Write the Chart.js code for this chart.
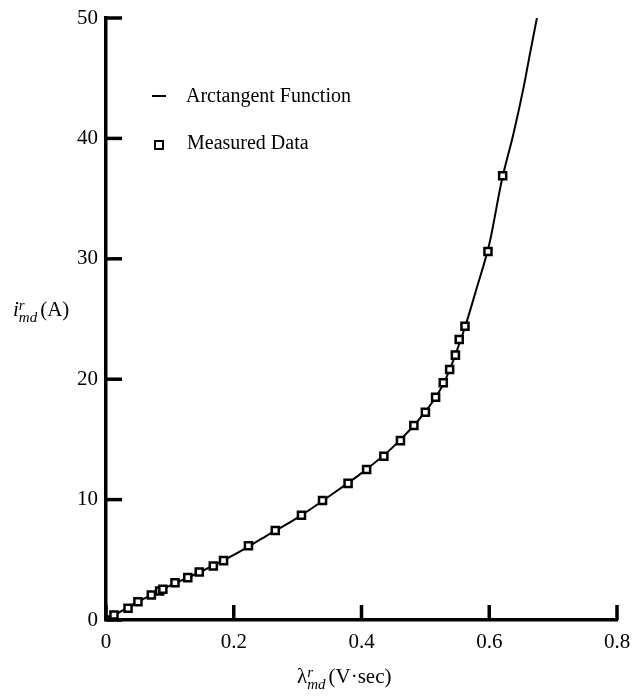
<!DOCTYPE html>
<html>
<head>
<meta charset="utf-8">
<script src="https://cdn.jsdelivr.net/npm/chart.js@4/dist/chart.umd.min.js"></script>
<style>
  body { margin: 0; background: #fff; }
  #wrap { position: relative; width: 634px; height: 696px; }
  .lbl { position: absolute; font-family: 'Liberation Serif', serif; color: #000; font-size: 20px; white-space: nowrap; }
  .ss { display: inline-block; vertical-align: -6px; line-height: 0.8; font-style: italic; font-size: 15px; margin-right: 3px; }
  .ss span { display: block; }
  .legline { position: absolute; left: 152px; top: 95px; width: 14px; height: 2px; background: #000; }
  .legbox { position: absolute; left: 154px; top: 140px; width: 6px; height: 6px; border: 2px solid #000; background: #fff; }
</style>
</head>
<body>
<div id="wrap">
  <canvas id="grafico" width="634" height="696"></canvas>
  <div class="legline"></div>
  <div class="lbl" style="left:186px; top:84px;">Arctangent Function</div>
  <div class="legbox"></div>
  <div class="lbl" style="left:187px; top:131px;">Measured Data</div>
  <div class="lbl" style="left:13px; top:297px; font-size:21px;"><i>i</i><span class="ss"><span>r</span><span>md</span></span>(A)</div>
  <div class="lbl" style="left:297px; top:664px; font-size:21px;">&lambda;<span class="ss"><span>r</span><span>md</span></span>(V&middot;sec)</div>
</div>
<script>
// Datos medidos
const medidoX = [0, 0.0125, 0.0345, 0.050, 0.071, 0.084, 0.089, 0.108, 0.128, 0.146, 0.168, 0.184,
  0.223, 0.265, 0.306, 0.339, 0.379, 0.408, 0.435, 0.461, 0.482, 0.500, 0.516, 0.528, 0.538,
  0.547, 0.553, 0.562, 0.598, 0.621];
const medidoY = [0, 0.42, 0.97, 1.52, 2.08, 2.41, 2.55, 3.1, 3.52, 3.99, 4.49, 4.93,
  6.16, 7.43, 8.7, 9.92, 11.35, 12.5, 13.6, 14.9, 16.15, 17.25, 18.5, 19.7, 20.8,
  22.0, 23.3, 24.4, 30.6, 36.9];

// Curva arcotangente
const curvaX = [0, 0.05, 0.1, 0.15, 0.2, 0.25, 0.3, 0.35, 0.4, 0.45, 0.5, 0.53, 0.56, 0.58, 0.6, 0.62, 0.638, 0.654, 0.664, 0.675];
const curvaY = [0, 1.5, 2.85, 4.05, 5.4, 6.95, 8.5, 10.3, 12.2, 14.4, 17.3, 19.8, 24.0, 27.5, 31.2, 36.6, 40.4, 44.3, 47.1, 50.1];

// Marcas de los ejes
const ticksX = [0, 0.2, 0.4, 0.6, 0.8];
const ticksY = [0, 10, 20, 30, 40, 50];

const fuente = { family: "'Liberation Serif', serif", size: 21 };

// Marcas hacia adentro
const marcasInternas = {
  id: 'marcasInternas',
  afterDraw(chart) {
    const ctx = chart.ctx, x = chart.scales.x, y = chart.scales.y, a = chart.chartArea;
    ctx.save();
    ctx.strokeStyle = '#000';
    ctx.lineWidth = 3.5;
    ticksX.forEach(v => {
      const px = x.getPixelForValue(v);
      ctx.beginPath(); ctx.moveTo(px, a.bottom); ctx.lineTo(px, a.bottom - 15); ctx.stroke();
    });
    ticksY.forEach(v => {
      const py = y.getPixelForValue(v);
      ctx.beginPath(); ctx.moveTo(a.left, py); ctx.lineTo(a.left + 16, py); ctx.stroke();
    });
    ctx.restore();
  }
};

document.addEventListener('DOMContentLoaded', function() {
  new Chart(document.getElementById('grafico'), {
    type: 'scatter',
    data: {
      datasets: [{
        label: 'Measured Data',
        data: medidoX.map((v, i) => ({ x: v, y: medidoY[i] })),
        pointStyle: 'rect',
        pointRadius: 5,
        borderWidth: 2.5,
        borderColor: '#000',
        backgroundColor: '#fff',
        order: 0
      }, {
        label: 'Arctangent Function',
        data: curvaX.map((v, i) => ({ x: v, y: curvaY[i] })),
        showLine: true,
        pointRadius: 0,
        borderColor: '#000',
        borderWidth: 2,
        cubicInterpolationMode: 'monotone',
        order: 1
      }]
    },
    options: {
      responsive: false,
      animation: false,
      layout: { padding: { top: 18, right: 17, left: 0, bottom: 0 } },
      plugins: { legend: { display: false }, tooltip: { enabled: false } },
      scales: {
        x: {
          type: 'linear', min: 0, max: 0.8,
          afterBuildTicks: s => { s.ticks = ticksX.map(v => ({ value: v })); },
          afterFit: s => { s.height = 76; s.paddingRight = 0; s.paddingLeft = 0; },
          grid: { display: false, drawTicks: false },
          border: { display: true, width: 3.5, color: '#000' },
          ticks: { font: fuente, color: '#000', padding: 10, maxRotation: 0,
            callback: v => v === 0 ? '0' : v.toFixed(1) }
        },
        y: {
          type: 'linear', min: 0, max: 50,
          afterBuildTicks: s => { s.ticks = ticksY.map(v => ({ value: v })); },
          afterFit: s => { s.width = 106; s.paddingTop = 0; s.paddingBottom = 0; },
          grid: { display: false, drawTicks: false },
          border: { display: true, width: 3.5, color: '#000' },
          ticks: { font: fuente, color: '#000', padding: 8 }
        }
      }
    },
    plugins: [marcasInternas]
  });
});
</script>
</body>
</html>
